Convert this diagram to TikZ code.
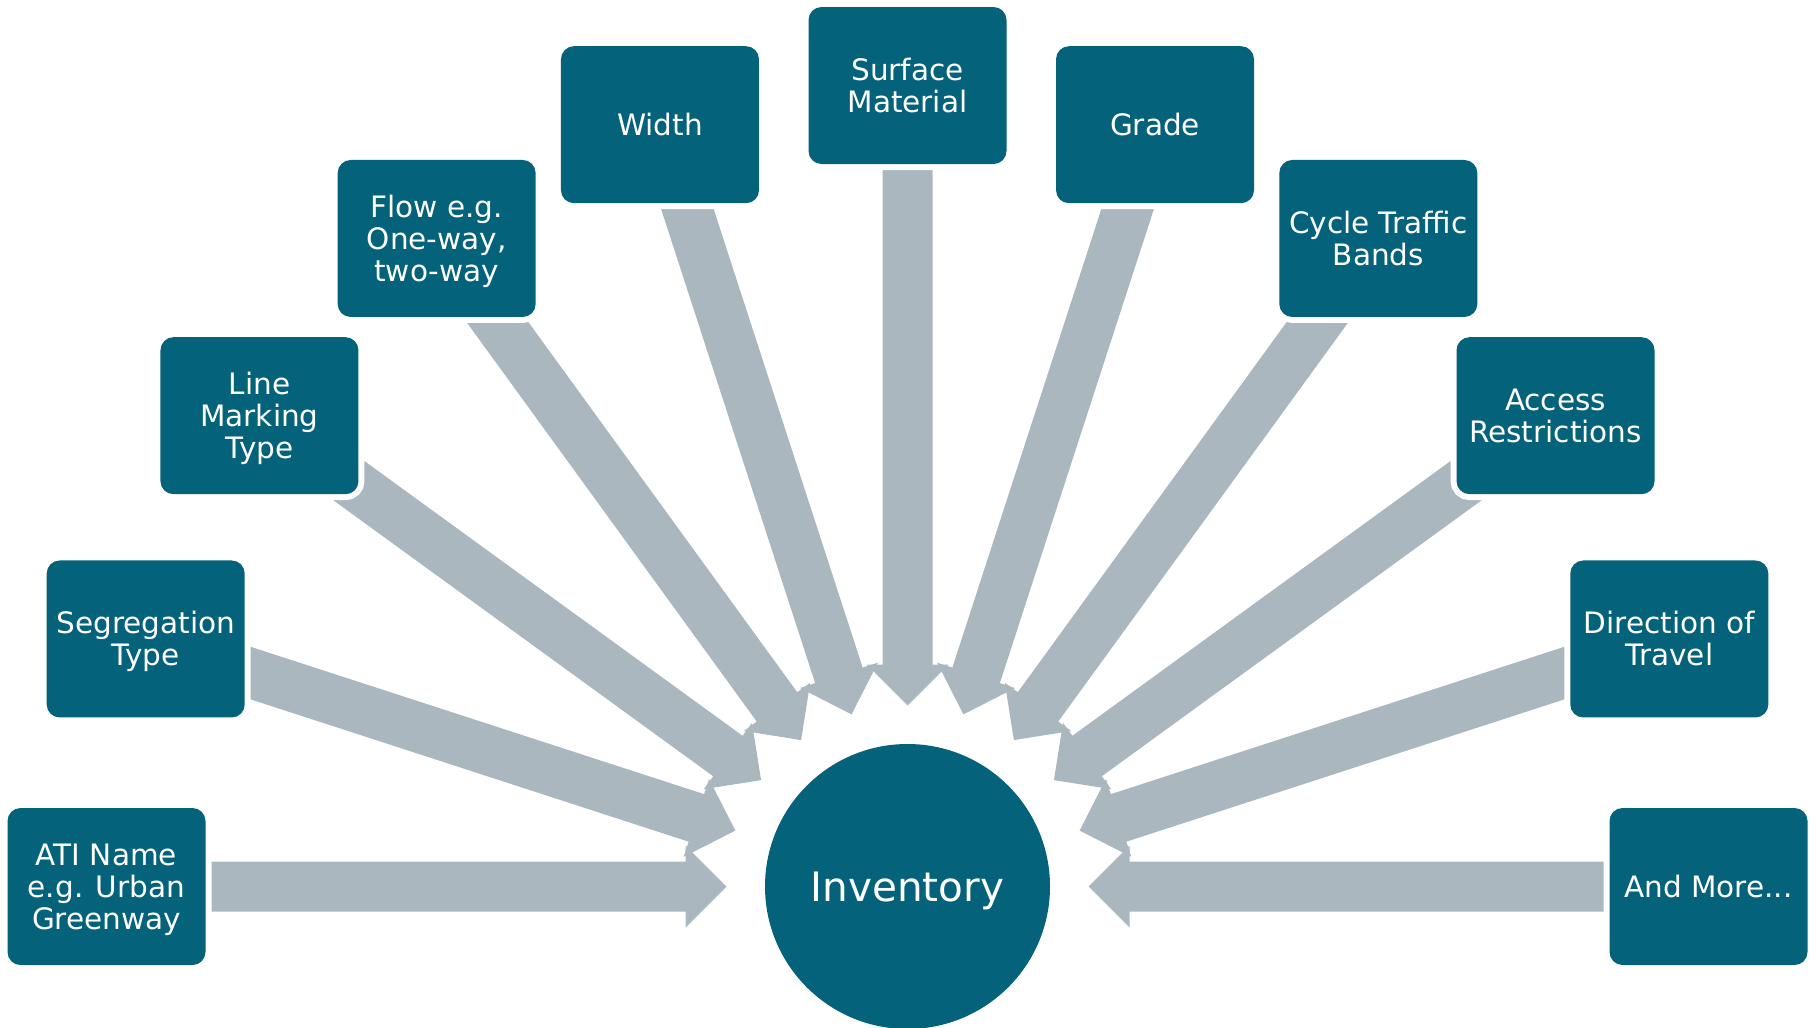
\documentclass[tikz,border=0pt]{standalone}
\usepackage{fontspec}
\setmainfont{DejaVu Sans}
\usetikzlibrary{calc,backgrounds}
\definecolor{invteal}{RGB}{4,98,122}
\definecolor{shaftgrey}{RGB}{170,183,191}
% Lines set on a fixed strut grid, lowered so the capitals sit on the centre
\newcommand\itemtext[1]{\raisebox{-4.35pt}[\height][\depth]{\begin{tabular}{@{}c@{}}#1\end{tabular}}}
\newcommand\hubtext[1]{\raisebox{-5.2pt}[\height][\depth]{\begin{tabular}{@{}c@{}}#1\end{tabular}}}
\begin{document}
\begin{tikzpicture}[x=1pt,y=-1pt,
  item/.style={rectangle, rounded corners=13pt, fill=invteal, text=white,
    minimum width=198pt, minimum height=157pt, inner sep=0pt,
    outer sep=0pt, font=\fontsize{29.5}{32}\selectfont,
    preaction={draw=white, line width=12pt}},
  hub/.style={circle, fill=invteal, text=white, minimum size=285pt,
    inner sep=0pt, font=\fontsize{40.5}{48}\selectfont},
  feed/.style={fill=shaftgrey}]
\useasboundingbox (0,0) rectangle (1816,1028);

% central hub
\node[hub] (inv) at (907.5,886.5) {\hubtext{Inventory}};

% attribute boxes on a half ring, 18 degrees apart
\node[item] (ati)    at ($(inv.center)+(-180:801)$) {\itemtext{ATI Name\\e.g. Urban\\Greenway}};
\node[item] (seg)    at ($(inv.center)+(-162:801)$) {\itemtext{Segregation\\Type}};
\node[item] (line)   at ($(inv.center)+(-144:801)$) {\itemtext{Line\\Marking\\Type}};
\node[item] (flow)   at ($(inv.center)+(-126:801)$) {\itemtext{Flow e.g.\\One-way,\\two-way}};
\node[item] (width)  at ($(inv.center)+(-108:801)$) {\itemtext{Width}};
\node[item] (surf)   at ($(inv.center)+(-90:801)$)  {\itemtext{Surface\\Material}};
\node[item] (grade)  at ($(inv.center)+(-72:801)$)  {\itemtext{Grade}};
\node[item] (cycle)  at ($(inv.center)+(-54:801)$)  {\itemtext{Cycle Traffic\\Bands}};
\node[item] (access) at ($(inv.center)+(-36:801)$)  {\itemtext{Access\\Restrictions}};
\node[item] (dir)    at ($(inv.center)+(-18:801)$)  {\itemtext{Direction of\\Travel}};
\node[item] (more)   at ($(inv.center)+(0:801)$)    {\itemtext{And More...}};

% block arrows converging on the hub
\begin{scope}[on background layer]
\foreach \b in {ati,seg,line,flow,width,surf,grade,cycle,access,dir,more}{
  \coordinate (s) at ($(inv.center)!740pt!(\b.center)$);
  \coordinate (h) at ($(inv.center)!222pt!(\b.center)$);
  \coordinate (t) at ($(inv.center)!181pt!(\b.center)$);
  \fill[feed] ($(s)!25pt!90:(inv.center)$) -- ($(h)!25pt!90:(inv.center)$)
    -- ($(h)!41pt!90:(inv.center)$) -- (t) -- ($(h)!41pt!-90:(inv.center)$)
    -- ($(h)!25pt!-90:(inv.center)$) -- ($(s)!25pt!-90:(inv.center)$) -- cycle;
}
\end{scope}
\end{tikzpicture}
\end{document}
